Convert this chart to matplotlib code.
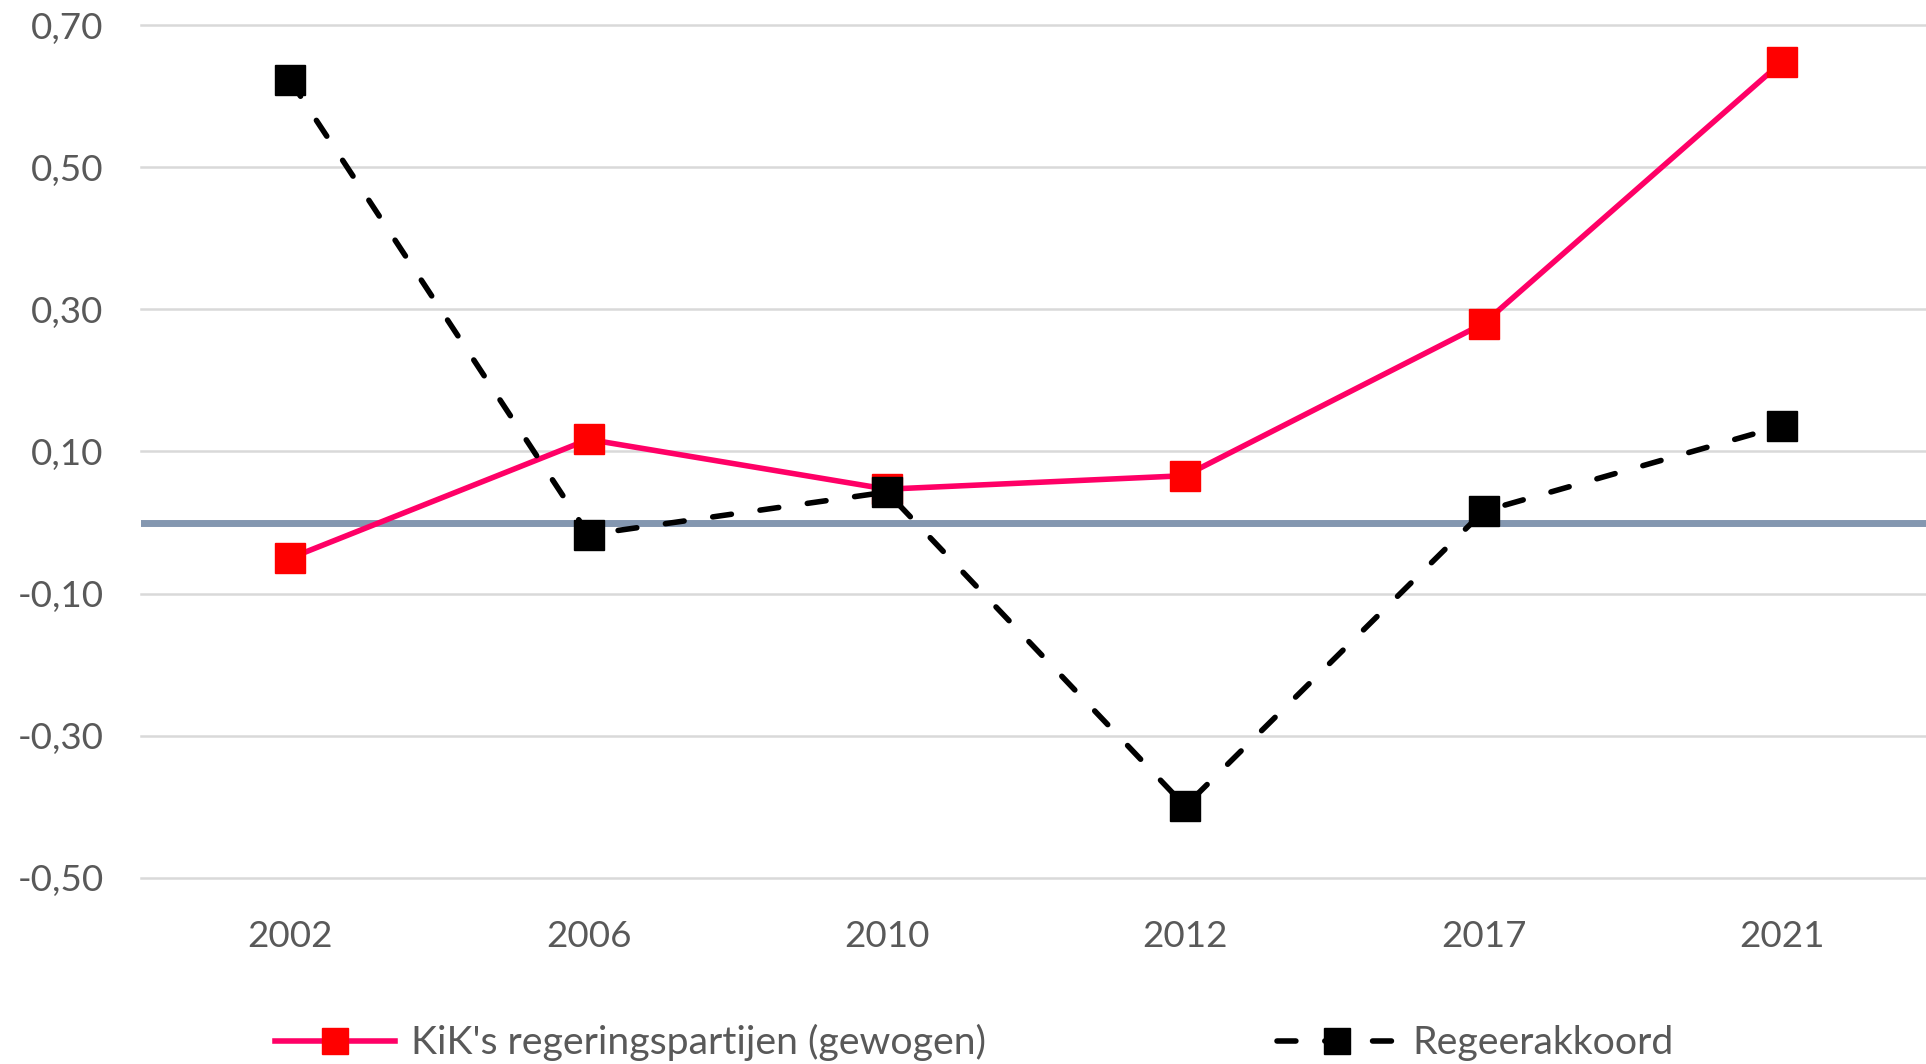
import matplotlib.pyplot as plt
from matplotlib.ticker import FuncFormatter

plt.rcParams['font.family'] = ['Lato', 'DejaVu Sans']

# data
years = ['2002', '2006', '2010', '2012', '2017', '2021']
kik = [-0.050, 0.117, 0.047, 0.066, 0.280, 0.648]
akkoord = [0.622, -0.017, 0.043, -0.399, 0.016, 0.136]
yticks = [0.7, 0.5, 0.3, 0.1, -0.1, -0.3, -0.5]

fig = plt.figure(figsize=(19.26, 10.64), dpi=100)
ax = fig.add_axes([141 / 1926, 186 / 1064, 1785 / 1926, 853 / 1064])

x = range(len(years))

# gridlines and zero axis
for v in yticks:
    ax.axhline(v, color='#D9D9D9', lw=1.8, zorder=1, clip_on=False)
ax.axhline(0, color='#8497B0', lw=5, zorder=2)

ax.plot(x, kik, color='#FF0066', lw=4.0, marker='s', markersize=21,
        markerfacecolor='#FF0000', markeredgecolor='#FF0000',
        label="KiK's regeringspartijen (gewogen)", zorder=3)
ax.plot(x, akkoord, color='black', lw=4.0, linestyle=(0, (3.4, 5.2)),
        dash_capstyle='round', marker='s', markersize=21,
        markerfacecolor='black', markeredgecolor='black',
        label='Regeerakkoord', zorder=4)

ax.set_xlim(-0.5, 5.483)
ax.set_ylim(-0.5, 0.7)
ax.set_xticks(list(x))
ax.set_xticklabels(years)
ax.set_yticks(yticks)
ax.yaxis.set_major_formatter(FuncFormatter(lambda v, p: f'{v:.2f}'.replace('.', ',')))

for s in ax.spines.values():
    s.set_visible(False)
ax.tick_params(axis='both', length=0, labelsize=26.5, labelcolor='#595959')
ax.tick_params(axis='y', pad=27)
ax.tick_params(axis='x', pad=30)

fig.legend(loc='center left', bbox_to_anchor=(275 / 1926, 0.02), ncol=2,
           frameon=False, fontsize=28.3, labelcolor='#595959',
           handlelength=3.05, handletextpad=0.41, columnspacing=7.4,
           borderpad=0, borderaxespad=0, markerscale=0.9)

fig.savefig('out.png', dpi=100)
